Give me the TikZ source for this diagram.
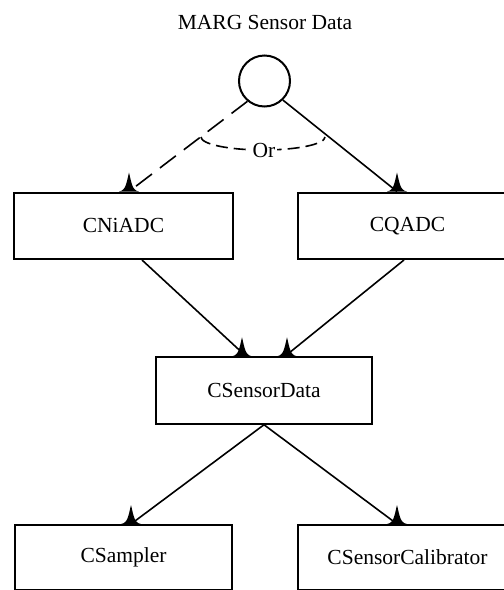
\documentclass[tikz,border=0pt]{standalone}
\usepackage{fontspec}
\setmainfont{Liberation Serif}
\begin{document}
\begin{tikzpicture}[x=1pt,y=-1pt,
  txt/.style={font=\fontsize{21.5}{24}\selectfont},
  box/.style={txt,draw,line width=2pt,minimum width=219pt,minimum height=66.5pt,inner sep=0pt},
  conn/.style={line width=1.6pt},
  dashconn/.style={conn,dash pattern=on 20pt off 10pt},
  ordash/.style={conn,dash pattern=on 12pt off 6pt},
  thorn/.pic={\fill (-10,0) .. controls (-3,-1) and (-2.5,-9) .. (0,-19) .. controls (2.5,-9) and (3,-1) .. (10,0) -- cycle;}
]
\clip (0,0) rectangle (504,590);
\node[txt] (title) at (265,22) {MARG Sensor Data};
\node[draw,circle,line width=2pt,minimum size=51pt,inner sep=0pt] (src) at (264.5,81) {};
\node[box] (cni) at (123.5,225.75) {CNiADC};
\node[box] (cqa) at (407.5,225.75) {CQADC};
\node[box,minimum width=216pt] (csd) at (264,390.5) {CSensorData};
\node[box,minimum width=217pt,minimum height=65pt] (samp) at (123.5,557.5) {CSampler};
\node[box,minimum height=65pt] (cal) at (407.5,557.5) {CSensorCalibrator};
% or arc
\draw[ordash] (201,137) arc[start angle=180,end angle=0,x radius=62,y radius=13];
\node[txt,fill=white,inner sep=1.5pt] (or) at (264,150) {Or};
% connectors
\draw[dashconn] (src.230) -- ([xshift=116pt]cni.north west);
\draw[conn] (src.314) -- ([xshift=100pt]cqa.north west);
\draw[conn] ([xshift=129pt]cni.south west) -- ([xshift=91pt]csd.north west);
\draw[conn] ([xshift=107pt]cqa.south west) -- ([xshift=130pt]csd.north west);
\draw[conn] ([xshift=109pt]csd.south west) -- ([xshift=117pt]samp.north west);
\draw[conn] ([xshift=109pt]csd.south west) -- ([xshift=100pt]cal.north west);
% arrow tips
\pic at ([xshift=116pt]cni.north west) {thorn};
\pic at ([xshift=100pt]cqa.north west) {thorn};
\pic at ([xshift=87pt]csd.north west) {thorn};
\pic at ([xshift=132pt]csd.north west) {thorn};
\pic at ([xshift=117pt]samp.north west) {thorn};
\pic at ([xshift=100pt]cal.north west) {thorn};
\end{tikzpicture}
\end{document}
